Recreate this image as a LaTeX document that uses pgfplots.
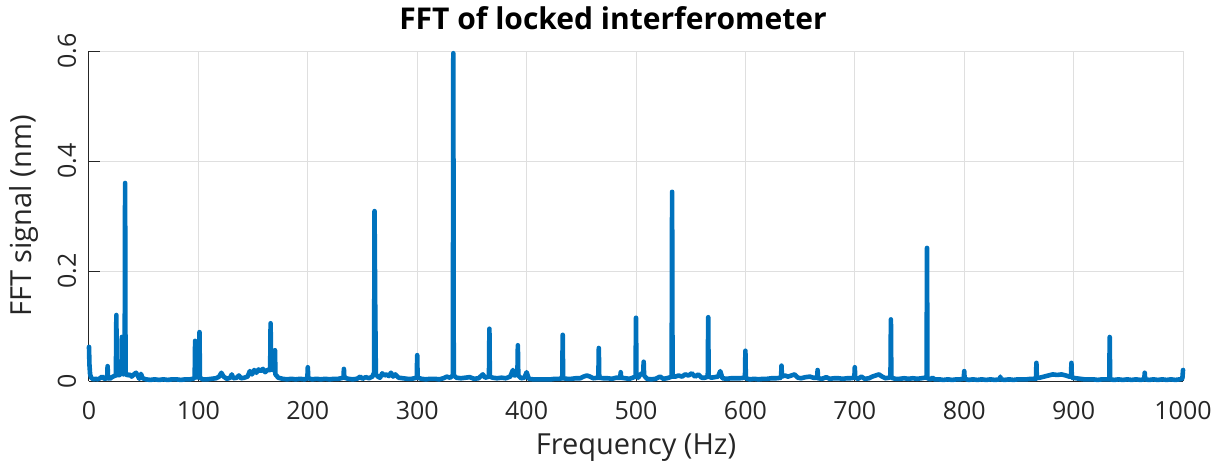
\documentclass[border=0pt]{standalone}
\usepackage{fontspec}
\setmainfont{Open Sans}
\usepackage{pgfplots}
\usepackage{pgfplotstable}
\pgfplotsset{compat=1.18}
\definecolor{mblue}{RGB}{0,114,189}
\definecolor{axgray}{RGB}{38,38,38}
\definecolor{gridgray}{RGB}{223,223,223}
\pgfplotstableread{
f v
0 0.062
0.4 0.03
1 0.012
2 0.006
4 0.003
6 0.004
8 0.003
10 0.005
12 0.008
14 0.004
16.6 0.005
17 0.027
17.4 0.006
19 0.004
21 0.007
23 0.009
24.6 0.010
25 0.120
25.4 0.012
27 0.010
28.5 0.012
29.6 0.014
30 0.080
30.4 0.014
31.5 0.012
32.6 0.015
33 0.360
33.4 0.014
35 0.010
37 0.012
39 0.008
41 0.012
43 0.015
44.5 0.010
46 0.004
47.5 0.013
49 0.005
52 0.003
56 0.002
60 0.003
64 0.002
68 0.003
72 0.002
76 0.003
80 0.003
84 0.002
88 0.003
92 0.003
95 0.004
96.6 0.006
97 0.073
97.4 0.008
99 0.006
100.6 0.008
101 0.089
101.4 0.006
104 0.003
108 0.003
112 0.004
116 0.005
119 0.008
121 0.015
123 0.008
126 0.004
129 0.006
130.5 0.012
132 0.005
135 0.006
137 0.010
139 0.005
142 0.006
145 0.008
147 0.018
149 0.012
151 0.020
153 0.015
155 0.021
157 0.018
159 0.022
161 0.016
163 0.020
165.6 0.020
166 0.105
166.4 0.030
168 0.020
169.6 0.025
170 0.056
170.4 0.012
173 0.006
177 0.004
181 0.003
185 0.004
189 0.003
193 0.004
197 0.003
199.6 0.005
200 0.025
200.4 0.005
204 0.003
208 0.004
212 0.003
216 0.004
220 0.003
224 0.004
228 0.004
232.6 0.006
233 0.022
233.4 0.006
237 0.004
241 0.003
245 0.004
248 0.008
250 0.004
253 0.007
256 0.005
259 0.008
260.6 0.015
261 0.309
261.6 0.140
262.2 0.012
264 0.008
266 0.006
268 0.014
270 0.010
272 0.012
274 0.009
276 0.015
278 0.008
280 0.012
283 0.006
287 0.005
291 0.004
295 0.004
299.6 0.006
300 0.047
300.4 0.006
304 0.004
308 0.003
312 0.004
316 0.004
320 0.003
324 0.005
327 0.008
330 0.006
332.6 0.010
333 0.596
333.4 0.010
336 0.006
340 0.005
344 0.006
348 0.007
352 0.004
356 0.005
360 0.012
362 0.006
365.6 0.008
366 0.095
366.4 0.008
369 0.006
373 0.005
377 0.006
381 0.005
385 0.008
387.5 0.020
389 0.010
391.6 0.012
392 0.065
392.4 0.010
395 0.005
398 0.006
400 0.016
402 0.004
406 0.003
410 0.003
414 0.003
418 0.003
422 0.003
426 0.004
430 0.004
432.6 0.005
433 0.084
433.4 0.005
437 0.004
441 0.004
445 0.005
449 0.005
452 0.008
455 0.010
458 0.008
461 0.005
465.6 0.006
466 0.060
466.4 0.006
470 0.005
474 0.005
478 0.004
482 0.006
485.6 0.006
486 0.016
486.4 0.006
490 0.005
494 0.004
497 0.006
499.6 0.008
500 0.115
500.4 0.010
502 0.006
504 0.012
506.6 0.015
507 0.035
507.4 0.010
510 0.004
514 0.003
518 0.004
522 0.008
525 0.004
528 0.005
530 0.006
532.6 0.008
533 0.344
533.4 0.008
536 0.008
539 0.010
542 0.008
545 0.012
548 0.010
551 0.014
554 0.008
557 0.012
560 0.006
563 0.006
565.6 0.008
566 0.116
566.4 0.008
569 0.006
572 0.007
575 0.008
577 0.018
579 0.005
583 0.004
587 0.005
591 0.005
595 0.005
599.6 0.006
600 0.055
600.4 0.005
604 0.003
608 0.004
612 0.003
616 0.004
620 0.004
624 0.005
628 0.005
632.6 0.006
633 0.028
633.4 0.008
636 0.010
639 0.008
642 0.010
645 0.012
648 0.006
651 0.005
655 0.007
659 0.008
662 0.006
665.6 0.006
666 0.020
666.4 0.005
670 0.004
674 0.007
677 0.004
681 0.005
685 0.005
689 0.004
693 0.005
696 0.005
699.6 0.006
700 0.025
700.4 0.006
703 0.004
706 0.008
709 0.004
713 0.005
716 0.008
719 0.010
722 0.012
725 0.008
728 0.005
731 0.006
732.6 0.007
733 0.112
733.4 0.006
737 0.004
741 0.004
745 0.005
749 0.004
753 0.005
757 0.004
761 0.005
764 0.006
765.6 0.006
766 0.242
766.4 0.005
769 0.003
771 0.006
773 0.003
777 0.003
781 0.002
785 0.003
789 0.002
793 0.003
796 0.003
799.6 0.004
800 0.018
800.4 0.004
804 0.002
808 0.003
812 0.002
816 0.003
820 0.002
824 0.003
828 0.002
832.6 0.003
833 0.008
833.4 0.003
837 0.002
841 0.003
845 0.002
849 0.003
853 0.003
857 0.003
861 0.004
864 0.004
865.6 0.004
866 0.033
866.4 0.006
869 0.006
873 0.008
877 0.010
881 0.012
885 0.011
889 0.012
893 0.010
896 0.008
897.6 0.008
898 0.033
898.4 0.006
902 0.005
906 0.004
910 0.003
914 0.003
918 0.003
922 0.002
926 0.003
930 0.003
932.6 0.003
933 0.080
933.4 0.003
937 0.002
941 0.003
945 0.002
949 0.003
953 0.002
957 0.003
961 0.002
964.6 0.003
965 0.015
965.4 0.003
969 0.002
973 0.003
977 0.002
981 0.003
985 0.002
989 0.003
993 0.002
997 0.003
999.4 0.004
1000 0.020
}\fftdata
\begin{document}
\begin{tikzpicture}
\begin{axis}[
  name=ax,
  scale only axis, width=547pt, height=165pt,
  xmin=0, xmax=1000, ymin=0, ymax=0.6,
  axis lines*=left,
  axis line style={axgray, line width=0.5pt},
  xtick={0,100,...,1000}, ytick={0,0.2,0.4,0.6},
  grid=major, major grid style={gridgray, line width=0.5pt},
  tick align=inside, major tick length=5.5pt,
  tick style={axgray, line width=0.5pt},
  ticklabel style={font=\fontsize{12.5}{15}\selectfont, text=axgray},
  /pgf/number format/assume math mode=true,
  /pgf/number format/1000 sep={},
  xticklabel style={anchor=base},
  xticklabel shift=19pt,
  yticklabel style={rotate=90, anchor=base},
  yticklabel shift=6.5pt,
  xlabel={Frequency (Hz)}, ylabel={FFT signal (nm)},
  label style={font=\fontsize{14.5}{17}\selectfont, text=axgray},
  xlabel style={at={([yshift=-36.5pt]axis description cs:0.5,0)}, anchor=base},
  ylabel style={at={([xshift=-28.5pt]axis description cs:0,0.5)}, anchor=base},
  title={FFT of locked interferometer},
  title style={font=\fontsize{15}{18}\selectfont\bfseries, at={([xshift=-11.5pt,yshift=5pt]axis description cs:0.5,1)}, anchor=base, text=black},
  clip=false,
]
\addplot[mblue, line width=2.3pt, line join=round, line cap=round] table[x=f, y=v] {\fftdata};
\end{axis}
\pgfresetboundingbox
\path ([shift={(-44.5pt,-42.5pt)}]ax.south west) rectangle ([shift={(20.5pt,25.5pt)}]ax.north east);
\end{tikzpicture}
\end{document}
